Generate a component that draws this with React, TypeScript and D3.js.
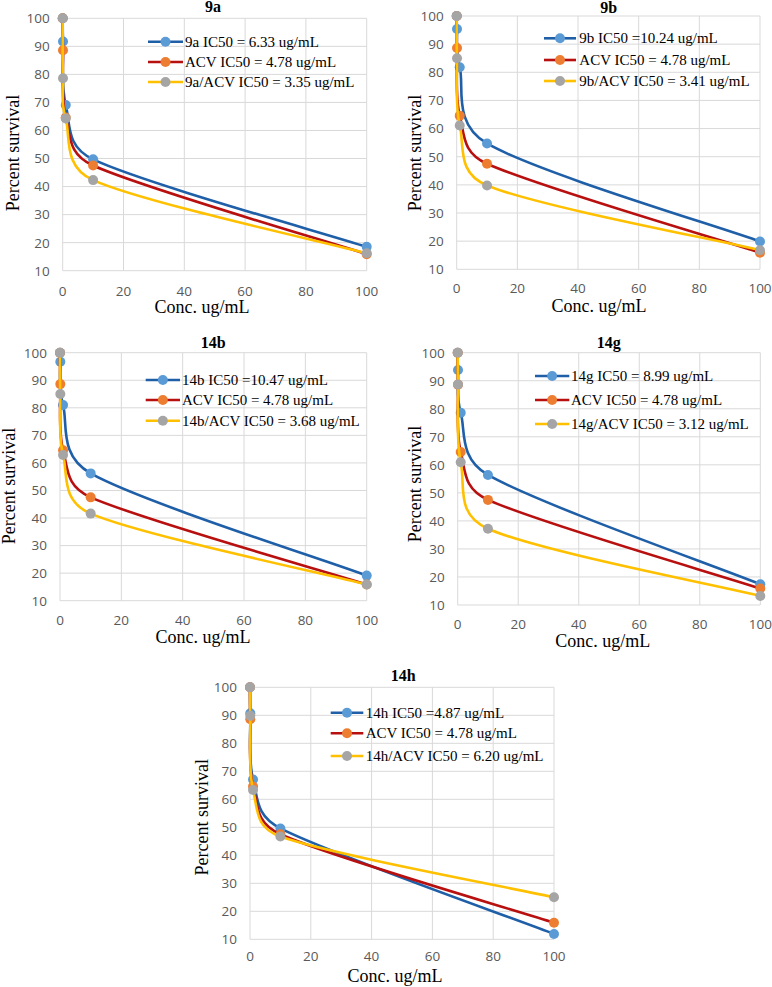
import React from "react";
import * as d3 from "d3";

// ---- data ----
const concentrations = [0, 0.1, 1, 10, 100];
const panelTitles = ["9a", "9b", "14b", "14g", "14h"];
const compoundSurvival = [
  [100, 91.7, 69.1, 49.7, 18.5],
  [100, 95.4, 81.8, 54.7, 19.9],
  [100, 96.7, 81.0, 56.2, 19.1],
  [100, 93.8, 78.6, 56.4, 17.4],
  [100, 90.7, 67.1, 49.6, 11.9],
];
const acvSurvival = [100, 88.6, 64.6, 47.5, 15.9];
const comboSurvival = [
  [100, 78.6, 64.3, 42.3, 16.2],
  [100, 85.0, 61.1, 39.8, 16.8],
  [100, 85.0, 62.9, 41.6, 15.9],
  [100, 88.7, 60.9, 37.2, 13.2],
  [100, 89.8, 63.3, 46.7, 25.0],
];
const compoundLabels = [
  "9a IC50 = 6.33 ug/mL",
  "9b IC50 =10.24 ug/mL",
  "14b IC50 =10.47 ug/mL",
  "14g IC50 = 8.99 ug/mL",
  "14h IC50 =4.87 ug/mL",
];
const acvLabel = "ACV IC50 = 4.78 ug/mL";
const comboLabels = [
  "9a/ACV IC50 = 3.35 ug/mL",
  "9b/ACV IC50 = 3.41 ug/mL",
  "14b/ACV IC50 = 3.68 ug/mL",
  "14g/ACV IC50 = 3.12 ug/mL",
  "14h/ACV IC50 = 6.20 ug/mL",
];
const xTicks = [0, 20, 40, 60, 80, 100];
const yTicks = [10, 20, 30, 40, 50, 60, 70, 80, 90, 100];
const xAxisTitle = "Conc. ug/mL";
const yAxisTitle = "Percent survival";

// ---- layout (positions only) ----
const layouts = [
  { l: 62.7, r: 366.7, t: 18.3, b: 270.7, titleX: 213, titleY: 12, xtY: 296, xTitleX: 202, xTitleY: 313, yLabX: 13, yLabY: 153, legX1: 148, legX2: 183, legTX: 185, legY: [41.7, 62, 82] },
  { l: 456.7, r: 760, t: 16, b: 269.3, titleX: 608.7, titleY: 13, xtY: 293, xTitleX: 599, xTitleY: 311.5, yLabX: 414.3, yLabY: 153, legX1: 544, legX2: 576, legTX: 579.3, legY: [38.3, 60, 81] },
  { l: 60, r: 366.7, t: 352.7, b: 600.7, titleX: 213.3, titleY: 348.3, xtY: 625, xTitleX: 203, xTitleY: 643.3, yLabX: 8.3, yLabY: 486, legX1: 145.7, legX2: 180, legTX: 182, legY: [380, 400, 420.7] },
  { l: 457.7, r: 760.3, t: 352.7, b: 605, titleX: 608.7, titleY: 348.3, xtY: 629, xTitleX: 602.7, xTitleY: 647, yLabX: 414.3, yLabY: 484, legX1: 535, legX2: 569.3, legTX: 571, legY: [376, 400, 424] },
  { l: 250, r: 554, t: 687.3, b: 939.3, titleX: 403.3, titleY: 680.7, xtY: 961, xTitleX: 395, xTitleY: 981.7, yLabX: 201.7, yLabY: 817.3, legX1: 330.7, legX2: 363.3, legTX: 365.7, legY: [712.7, 733.3, 756] },
];

const seriesStyles = [
  { line: "#1F5FA8", marker: "#5B9BD5" },
  { line: "#B80F0F", marker: "#ED7D31" },
  { line: "#FFC000", marker: "#A5A5A5" },
];

// Excel-like smoothed line: cubic Bezier with Catmull-Rom tangents (1/6),
// control arms limited relative to the segment length.
function smoothPath(pts: [number, number][]): string {
  const n = pts.length;
  const p = d3.path();
  if (!n) return "";
  p.moveTo(pts[0][0], pts[0][1]);
  const tan = (i: number): [number, number] => {
    const a = pts[Math.max(0, i - 1)];
    const b = pts[Math.min(n - 1, i + 1)];
    return [(b[0] - a[0]) / 6, (b[1] - a[1]) / 6];
  };
  const limit = (v: [number, number], maxLen: number): [number, number] => {
    const len = Math.hypot(v[0], v[1]);
    if (len <= maxLen || len === 0) return v;
    const s = maxLen / len;
    return [v[0] * s, v[1] * s];
  };
  for (let i = 0; i < n - 1; i++) {
    const a = pts[i];
    const b = pts[i + 1];
    const seg = Math.hypot(b[0] - a[0], b[1] - a[1]);
    const t0 = limit(tan(i), seg * 0.5);
    const t1 = limit(tan(i + 1), seg * 0.5);
    p.bezierCurveTo(a[0] + t0[0], a[1] + t0[1], b[0] - t1[0], b[1] - t1[1], b[0], b[1]);
  }
  return p.toString();
}

function Panel({ idx }: { idx: number }) {
  const L = layouts[idx];
  const x = d3.scaleLinear().domain([0, 100]).range([L.l, L.r]);
  const y = d3.scaleLinear().domain([10, 100]).range([L.b, L.t]);
  const series = [compoundSurvival[idx], acvSurvival, comboSurvival[idx]];
  const labels = [compoundLabels[idx], acvLabel, comboLabels[idx]];
  return (
    <g>
      {xTicks.map((t) => (
        <line key={"gx" + t} x1={x(t)} x2={x(t)} y1={y(10)} y2={y(100)} stroke="#D9D9D9" strokeWidth={1} />
      ))}
      {yTicks.map((t) => (
        <line key={"gy" + t} x1={x(0)} x2={x(100)} y1={y(t)} y2={y(t)} stroke="#D9D9D9" strokeWidth={1} />
      ))}
      {yTicks.map((t) => (
        <text key={"ty" + t} x={L.l - 13} y={y(t)} dy="0.36em" textAnchor="end" fontFamily="'Open Sans', sans-serif" fontSize={13.5} fill="#595959">
          {t}
        </text>
      ))}
      {xTicks.map((t) => (
        <text key={"tx" + t} x={x(t)} y={L.xtY} textAnchor="middle" fontFamily="'Open Sans', sans-serif" fontSize={13.5} fill="#595959">
          {t}
        </text>
      ))}
      <text x={L.titleX} y={L.titleY} textAnchor="middle" fontFamily="'Liberation Serif', serif" fontWeight="bold" fontSize={16}>
        {panelTitles[idx]}
      </text>
      <text x={L.xTitleX} y={L.xTitleY} textAnchor="middle" fontFamily="'Liberation Serif', serif" fontSize={18}>
        {xAxisTitle}
      </text>
      <text transform={`translate(${L.yLabX},${L.yLabY}) rotate(-90)`} textAnchor="middle" dy="0.35em" fontFamily="'Liberation Serif', serif" fontSize={18}>
        {yAxisTitle}
      </text>
      {series.map((s, si) => (
        <g key={"s" + si}>
          <path
            d={smoothPath(s.map((v, i) => [x(concentrations[i]), y(v)] as [number, number]))}
            fill="none"
            stroke={seriesStyles[si].line}
            strokeWidth={2.6}
            strokeLinejoin="round"
          />
          {s.map((v, i) => (
            <circle key={i} cx={x(concentrations[i])} cy={y(v)} r={5} fill={seriesStyles[si].marker} />
          ))}
        </g>
      ))}
      {labels.map((lab, si) => (
        <g key={"lg" + si}>
          <line x1={L.legX1} x2={L.legX2} y1={L.legY[si]} y2={L.legY[si]} stroke={seriesStyles[si].line} strokeWidth={2.6} />
          <circle cx={(L.legX1 + L.legX2) / 2} cy={L.legY[si]} r={5} fill={seriesStyles[si].marker} />
          <text x={L.legTX} y={L.legY[si]} dy="0.33em" fontFamily="'Liberation Serif', serif" fontSize={15}>
            {lab}
          </text>
        </g>
      ))}
    </g>
  );
}

export default function App() {
  return (
    <svg width={772} height={987} style={{ position: "absolute", left: 0, top: 0, background: "#fff" }}>
      <rect width={772} height={987} fill="#fff" />
      {panelTitles.map((_, i) => (
        <Panel key={i} idx={i} />
      ))}
    </svg>
  );
}
